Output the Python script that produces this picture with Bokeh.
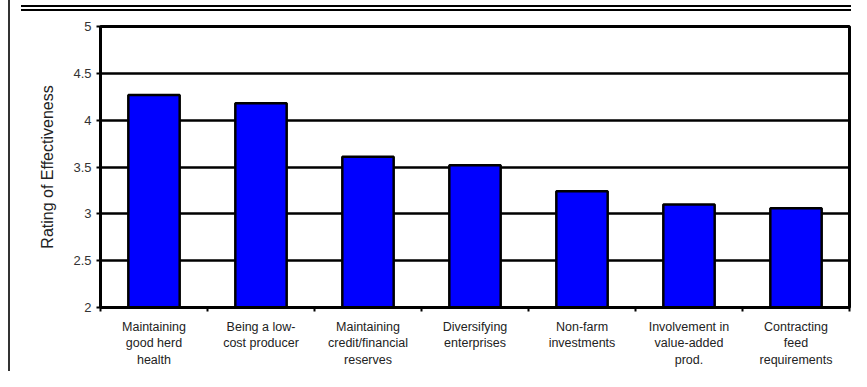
import numpy as np
from bokeh.plotting import figure
from bokeh.models import (ColumnDataSource, FixedTicker, NumeralTickFormatter,
                          Range1d)
from bokeh.embed import file_html
from bokeh.resources import INLINE

categories = [
    "Maintaining\ngood herd\nhealth",
    "Being a low-\ncost producer",
    "Maintaining\ncredit/financial\nreserves",
    "Diversifying\nenterprises",
    "Non-farm\ninvestments",
    "Involvement in\nvalue-added\nprod.",
    "Contracting\nfeed\nrequirements",
]
ratings = [4.27, 4.18, 3.61, 3.52, 3.24, 3.10, 3.06]
y_ticks = [2, 2.5, 3, 3.5, 4, 4.5, 5]

x_pos = np.arange(len(categories)) + 0.5
src = ColumnDataSource(dict(x=x_pos, top=ratings))

page_css = """
:host { position: relative; }
:host::before {
  content: ""; position: absolute; left: 8px; top: 0px; width: 2px; height: 371px;
  background: #333333; z-index: 100; pointer-events: none;
}
:host::after {
  content: ""; position: absolute; left: 21px; right: 0px; top: 5px; height: 2px;
  border-top: 2px solid #000; border-bottom: 2px solid #000; z-index: 100;
  pointer-events: none;
}
"""

p = figure(width=851, height=371, output_backend="svg", toolbar_location=None,
           x_range=Range1d(0, len(categories)), y_range=Range1d(2, 5),
           min_border_left=100, min_border_right=2, min_border_top=26,
           min_border_bottom=64, stylesheets=[page_css])

p.vbar(x="x", top="top", bottom=2, width=0.48, source=src,
       fill_color="#0000FF", line_color="black", line_width=2.5)

p.outline_line_color = "black"
p.outline_line_width = 3
p.background_fill_color = "white"
p.border_fill_color = "white"

# grid
p.xgrid.visible = False
p.ygrid.ticker = FixedTicker(ticks=y_ticks)
p.ygrid.grid_line_color = "black"
p.ygrid.grid_line_width = 2.5
p.ygrid.level = "underlay"

# y axis
p.yaxis.ticker = FixedTicker(ticks=y_ticks)
p.yaxis.formatter = NumeralTickFormatter(format="0.[0]")
p.yaxis.axis_line_width = 3
p.yaxis.major_tick_in = 0
p.yaxis.major_tick_out = 4
p.yaxis.major_tick_line_width = 2
p.yaxis.minor_tick_line_color = None
p.yaxis.major_label_text_font = "Liberation Sans"
p.yaxis.major_label_text_font_size = "13px"
p.yaxis.major_label_text_color = "#333333"
p.yaxis.major_label_standoff = 5
p.yaxis.axis_label = "Rating of Effectiveness"
p.yaxis.axis_label_text_font = "Liberation Sans"
p.yaxis.axis_label_text_font_size = "16px"
p.yaxis.axis_label_text_font_style = "normal"
p.yaxis.axis_label_text_color = "#222222"
p.yaxis.axis_label_standoff = 14

# x axis: labels at bar centres, ticks at category boundaries
boundaries = list(np.arange(len(categories) + 1))
p.xaxis.ticker = FixedTicker(ticks=list(x_pos), minor_ticks=boundaries)
p.xaxis.major_label_overrides = {float(x): c for x, c in zip(x_pos, categories)}
p.xaxis.axis_line_width = 3
p.xaxis.major_tick_in = 0
p.xaxis.major_tick_out = 0
p.xaxis.minor_tick_in = 0
p.xaxis.minor_tick_out = 4
p.xaxis.minor_tick_line_width = 2
p.xaxis.minor_tick_line_color = "black"
p.xaxis.major_label_text_font = "Liberation Sans"
p.xaxis.major_label_text_font_size = "12.5px"
p.xaxis.major_label_text_color = "#222222"
p.xaxis.major_label_text_line_height = 1.2
p.xaxis.major_label_standoff = 8

open("out.html", "w").write(file_html(p, INLINE))
